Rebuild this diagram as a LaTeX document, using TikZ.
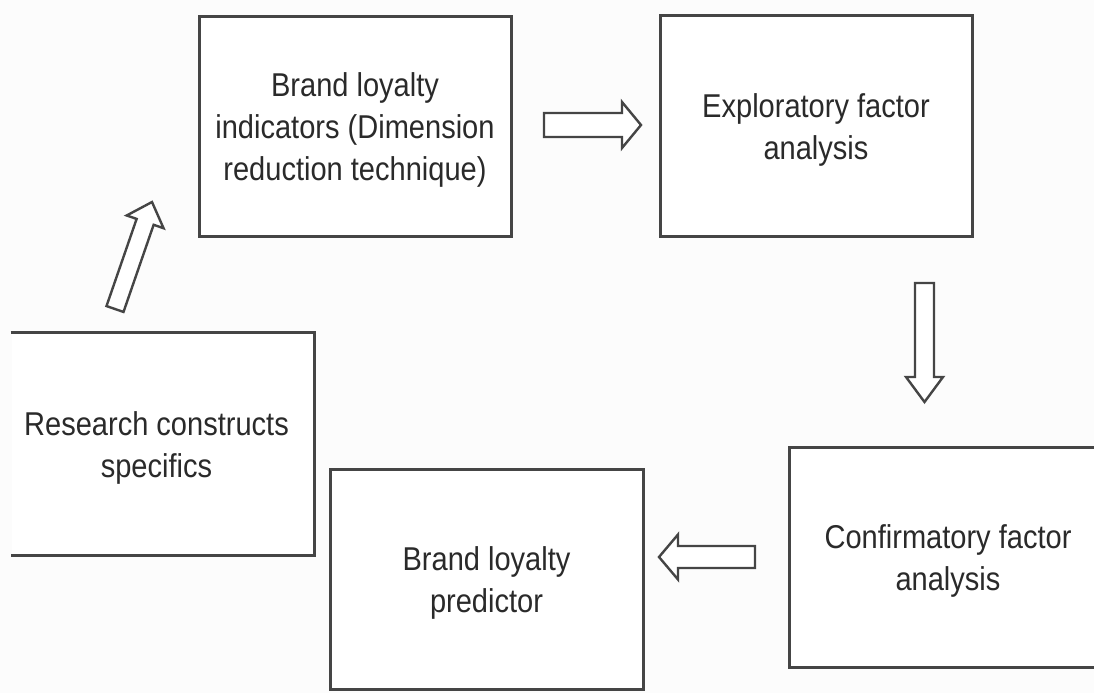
\documentclass[tikz,border=0pt]{standalone}
\usepackage{fontspec}
\setmainfont{Liberation Sans}[FakeStretch=0.88]
\usetikzlibrary{calc}
\definecolor{bgc}{HTML}{FCFCFC}
\definecolor{linec}{HTML}{454545}
\definecolor{textc}{HTML}{2A2A2A}
\tikzset{
  boxstyle/.style={draw=linec, line width=3pt, fill=white, inner sep=0pt,
    text=textc, font=\fontsize{33}{42}\selectfont},
  arrowline/.style={draw=linec, line width=2.4pt, fill=white, line join=miter}
}
\newcommand\boxtext[1]{\raisebox{-4pt}[\height][\depth]{\begin{tabular}{@{}c@{}}#1\end{tabular}}}
% block arrow from #1 to #2: shaft half width #3, head half width #4, head length #5
\newcommand\blockarrow[5]{%
  \coordinate (ba-h) at ($(#2)!#5!(#1)$);
  \draw[arrowline] ($(#1)!#3!90:(#2)$) -- ($(ba-h)!#3!-90:(#1)$) -- ($(ba-h)!#4!-90:(#1)$)
     -- (#2) -- ($(ba-h)!#4!90:(#1)$) -- ($(ba-h)!#3!90:(#1)$) -- ($(#1)!#3!-90:(#2)$) -- cycle;
}
\begin{document}
\begin{tikzpicture}[x=1pt,y=-1pt]
\useasboundingbox (0,0) rectangle (1094,693);
\clip (0,0) rectangle (1094,693);
\fill[bgc] (0,0) rectangle (1094,693);

% boxes
\node[boxstyle, minimum width=312pt, minimum height=219pt] (ind) at (355,126.5)
  {\boxtext{Brand loyalty\\indicators (Dimension\\reduction technique)}};
\node[boxstyle, minimum width=312pt, minimum height=221pt] (efa) at (816,126)
  {\boxtext{Exploratory factor\\analysis}};
\node[boxstyle, minimum width=318pt, minimum height=220pt] (cfa) at (948,557)
  {\boxtext{Confirmatory factor\\analysis}};
\node[boxstyle, minimum width=313pt, minimum height=220pt] (pred) at (486.5,579)
  {\boxtext{Brand loyalty\\predictor}};
\node[boxstyle, draw=none, minimum width=301pt, minimum height=220pt] (res) at (162.5,444)
  {\hspace*{-12pt}\boxtext{Research constructs\\specifics}};
\draw[linec, line width=3pt, line join=miter] (res.north west) -- (res.north east)
  -- (res.south east) -- (res.south west);

% arrow end points
\coordinate (a1s) at (544,125);
\coordinate (a1e) at (641,125);
\coordinate (a2s) at (924.5,283);
\coordinate (a2e) at (924.5,402);
\coordinate (a3s) at (755,557);
\coordinate (a3e) at (659,557);
\coordinate (a4s) at (115,309);
\coordinate (a4e) at (152,202);

\blockarrow{a1s}{a1e}{12pt}{23pt}{19pt}
\blockarrow{a2s}{a2e}{9.5pt}{18.5pt}{25pt}
\blockarrow{a3s}{a3e}{11pt}{22.5pt}{19pt}
\blockarrow{a4s}{a4e}{9pt}{19.5pt}{21pt}
\end{tikzpicture}
\end{document}
